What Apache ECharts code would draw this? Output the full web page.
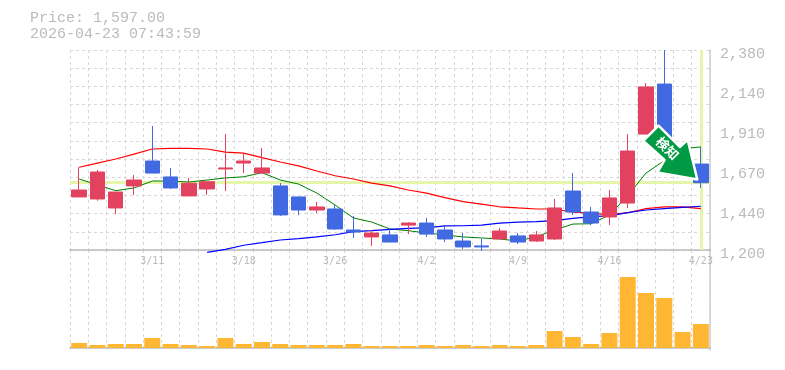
<!DOCTYPE html>
<html><head><meta charset="utf-8">
<style>html,body{margin:0;padding:0;background:#fff}#c{width:785px;height:370px}</style>
<script src="https://cdn.jsdelivr.net/npm/echarts@6/dist/echarts.min.js"></script>
</head><body><div id="c"></div>
<script>
const priceText = 'Price: 1,597.00';
const timeText = '2026-04-23 07:43:59';
const lastPrice = 1597;
const categories = ['3/5','3/6','3/9','3/10','3/11','3/12','3/13','3/16','3/17','3/18','3/19','3/23','3/24','3/25','3/26','3/27','3/30','3/31','4/1','4/2','4/3','4/6','4/7','4/8','4/9','4/10','4/13','4/14','4/15','4/16','4/17','4/20','4/21','4/22','4/23'];
const shownDates = ['3/11','3/18','3/26','4/2','4/9','4/16','4/23'];
const priceTicks = [1200,1436,1672,1908,2144,2380];
const priceTickLabels = ['1,200','1,440','1,670','1,910','2,140','2,380'];
const opens  = [1513,1501,1448,1578,1725,1631,1519,1560,1678,1713,1654,1578,1513,1436,1442,1318,1277,1289,1347,1359,1318,1253,1224,1265,1283,1253,1265,1548,1424,1395,1477,1884,2179,1810,1707];
const closes = [1554,1660,1542,1613,1654,1566,1594,1603,1684,1725,1684,1407,1436,1454,1324,1306,1300,1247,1359,1294,1265,1218,1218,1312,1247,1289,1448,1424,1359,1507,1784,2162,1837,1720,1597];
const lows   = [1513,1491,1412,1525,1654,1560,1519,1525,1548,1654,1654,1401,1406,1418,1318,1271,1224,1247,1294,1277,1247,1206,1194,1265,1235,1247,1259,1406,1347,1347,1448,1884,1800,1700,1566];
const highs  = [1688,1672,1542,1642,1932,1684,1625,1603,1884,1772,1802,1595,1513,1483,1465,1401,1318,1330,1365,1389,1342,1300,1265,1330,1300,1312,1501,1654,1454,1554,1884,2185,2380,1820,1808];
const maShort = [1619,1584,1550,1566,1607,1607,1601,1613,1625,1632,1656,1613,1589,1536,1465,1389,1365,1324,1314,1300,1289,1277,1271,1265,1253,1278,1318,1353,1355,1407,1520,1654,1727,1798,1808];
const maMid   = [1688,1713,1737,1766,1796,1800,1800,1796,1778,1772,1745,1719,1696,1666,1638,1619,1595,1578,1554,1536,1509,1485,1471,1455,1448,1442,1442,1424,1418,1407,1420,1444,1454,1454,1444];
const maLong  = [null,null,null,null,null,null,null,1186,1204,1228,1243,1259,1267,1278,1290,1308,1314,1322,1328,1331,1342,1343,1347,1358,1365,1367,1373,1387,1397,1401,1420,1436,1444,1452,1458];
const volumes = [5,3,4,4,10,4,3,2,10,4,6,4,3,3,3,4,2,2,2,3,2,3,2,3,2,3,17,11,4,15,71,55,50,16,24];
const signalText = '検知';
const signalPrice = 1775;

const GREY = '#bbbbbb', GRID = '#d8d8d8', BORDER = '#cccccc', MONO = '"Liberation Mono", monospace';
const dash = {color: GRID, type: [3,3], width: 1};
const candleData = categories.map((_, i) => [opens[i], closes[i], lows[i], highs[i]]);
const line = (name, data, color, width) => ({name, type:'line', data, showSymbol:false, symbol:'none', clip:false, z:2,
  lineStyle:{color, width}, itemStyle:{color}, connectNulls:false});

const chart = echarts.init(document.getElementById('c'), null, {renderer:'canvas'});
chart.setOption({
  animation:false, backgroundColor:'#fff',
  title:{text: priceText + '\n' + timeText, left:30, top:10, padding:0,
    textStyle:{fontFamily:MONO, fontSize:15, fontWeight:'normal', color:GREY, lineHeight:16}},
  grid:[{left:70, right:75, top:50, height:200},{left:70, right:75, top:250, height:100}],
  xAxis:[
    {type:'category', gridIndex:0, data:categories, boundaryGap:true,
     axisLine:{lineStyle:{color:GREY, width:1.5}}, axisTick:{show:false},
     axisLabel:{interval:(i,v)=>shownDates.includes(v), color:GREY, fontFamily:'"DejaVu Sans Mono", monospace', fontSize:10, margin:6, hideOverlap:false},
     splitLine:{show:true, interval:0, lineStyle:dash}},
    {type:'category', gridIndex:1, data:categories, boundaryGap:true,
     axisLine:{lineStyle:{color:GREY, width:1.5}}, axisTick:{show:false}, axisLabel:{show:false},
     splitLine:{show:true, interval:0, lineStyle:dash}}
  ],
  yAxis:[
    {type:'value', gridIndex:0, position:'right', min:1200, max:2380, scale:true,
     axisLine:{show:true, lineStyle:{color:BORDER, width:1.5}}, axisTick:{show:false}, splitLine:{show:false},
     axisLabel:{customValues:priceTicks, margin:10, color:GREY, fontFamily:MONO, fontSize:15, verticalAlign:'top', lineHeight:8,
       formatter:v=>priceTickLabels[priceTicks.indexOf(v)]}},
    {type:'value', gridIndex:0, position:'left', min:0, max:11, interval:1,
     axisLine:{show:false}, axisTick:{show:false}, axisLabel:{show:false}, splitLine:{show:true, lineStyle:dash}},
    {type:'value', gridIndex:1, position:'right', min:-2, max:98,
     axisLine:{show:true, lineStyle:{color:BORDER, width:1.5}}, axisTick:{show:false}, axisLabel:{show:false}, splitLine:{show:false}}
  ],
  series:[
    {name:'last', type:'line', xAxisIndex:0, yAxisIndex:0, data:[], z:1, silent:true,
     markLine:{silent:true, symbol:'none', z:1, label:{show:false}, animation:false,
       lineStyle:{color:'#e5f6ab', width:3, type:'solid'},
       data:[{yAxis:lastPrice},{xAxis:categories[categories.length-1]}]}},
    {name:'price', type:'candlestick', xAxisIndex:0, yAxisIndex:0, data:candleData, barWidth:15, z:3, clip:false,
     itemStyle:{color:'#e2425f', color0:'#4169e1', borderColor:'#e2425f', borderColor0:'#4169e1', borderWidth:1}},
    line('short', maShort, '#008000', 1),
    line('mid', maMid, '#ff0000', 1.2),
    line('long', maLong, '#0000ff', 1.2),
    {name:'signal', type:'line', xAxisIndex:0, yAxisIndex:0, data:[], z:6, silent:true,
     markPoint:{silent:true, animation:false, z:6,
       symbol:'path://M14.3 0L0 14.4L20 32L13.3 43.7L50.7 50.4L41.7 13.4L34.3 20Z',
       symbolSize:[54,54], symbolKeepAspect:false, symbolOffset:[6,0],
       itemStyle:{color:'#009a44', borderColor:'#ffffff', borderWidth:2.5, borderJoin:'round'},
       label:{show:true, position:'inside', formatter:signalText, rotate:-45, color:'#fff', fontSize:13, fontWeight:'bold',
         fontFamily:'"Noto Sans CJK JP", sans-serif', offset:[-5,-1]},
       data:[{coord:[categories[32], signalPrice]}]}},
    {name:'volume', type:'bar', xAxisIndex:1, yAxisIndex:2, data:volumes, barWidth:16, z:3,
     itemStyle:{color:'#ffb733'}}
  ]
});
</script></body></html>
